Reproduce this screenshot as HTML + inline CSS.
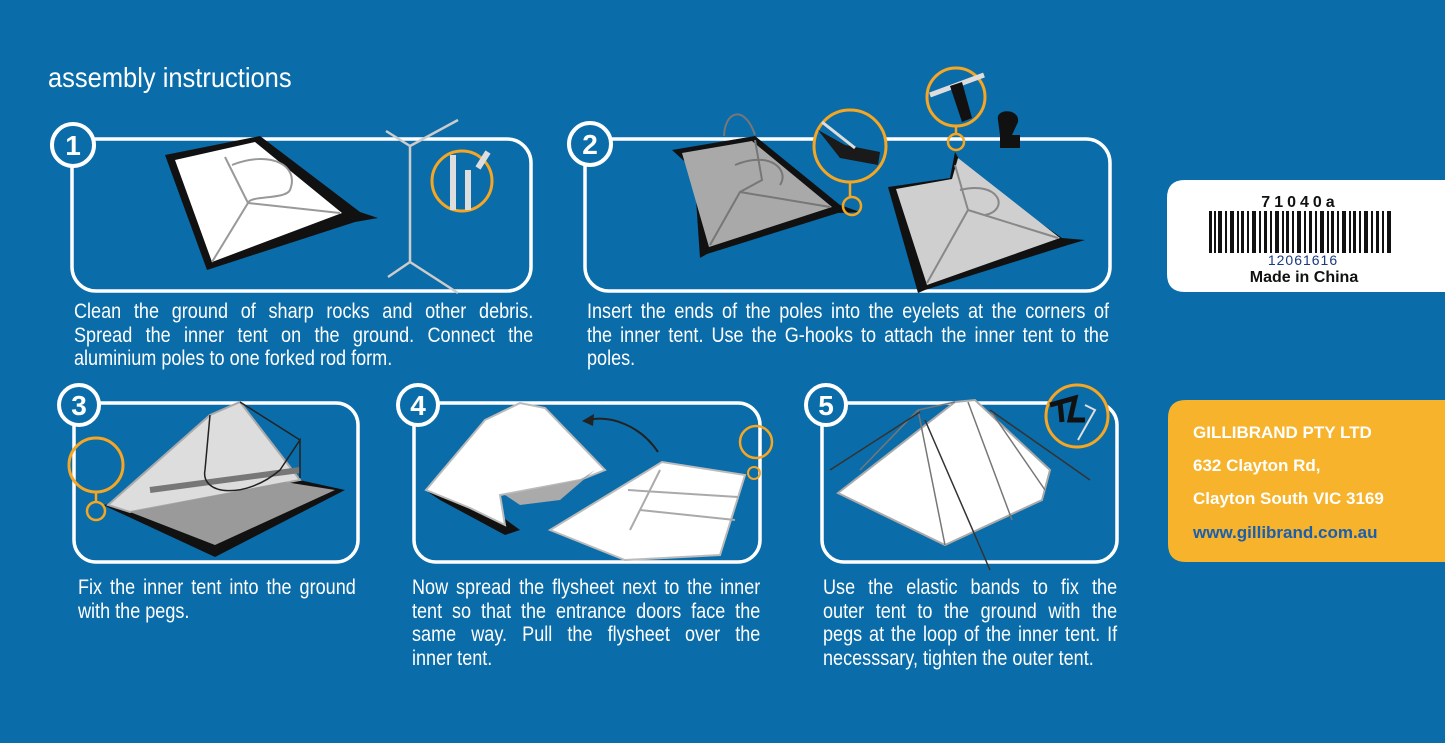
<!DOCTYPE html>
<html><head><meta charset="utf-8">
<style>
html,body{margin:0;padding:0}
body{width:1445px;height:743px;background:#0a6ca8;position:relative;overflow:hidden;font-family:"Liberation Sans",Arial,sans-serif}
.t{position:absolute;transform-origin:0 0;transform:scaleX(0.86);color:#fff;font-size:21px;line-height:23.6px}
.t div{text-align:justify;text-align-last:justify;white-space:nowrap}
.t div.l{text-align-last:left}
svg{position:absolute;left:0;top:0}
</style></head><body>
<svg width="1445" height="743" viewBox="0 0 1445 743">
<g fill="none" stroke="#fff" stroke-width="3.5">
<rect x="72" y="139" width="459" height="152" rx="24"/>
<rect x="585" y="139" width="525" height="152" rx="24"/>
<rect x="74" y="403" width="284" height="159" rx="22"/>
<rect x="414" y="403" width="346" height="159" rx="22"/>
<rect x="822" y="403" width="295" height="159" rx="22"/>
</g>
<g fill="#0a6ca8" stroke="#fff" stroke-width="4">
<circle cx="73" cy="145" r="21"/><circle cx="590" cy="144" r="21"/>
<circle cx="79" cy="405" r="20"/><circle cx="418" cy="405" r="20"/><circle cx="826" cy="405" r="20"/>
</g>
<g fill="#fff" font-family="Liberation Sans" font-weight="bold" font-size="28" text-anchor="middle">
<text x="73" y="155">1</text><text x="590" y="154">2</text><text x="79" y="415">3</text><text x="418" y="415">4</text><text x="826" y="415">5</text>
</g>
<!-- panel1 tent -->
<polygon points="165,155 260,136 360,212 378,218 355,222 207,270" fill="#111"/>
<polygon points="175,160 255,142 342,213 212,262" fill="#fff"/>
<path d="M212,262 L248,203 L340,213 M248,203 L225,157 M232,165 C270,150 300,165 290,190 C285,200 250,195 248,203" stroke="#999" stroke-width="2" fill="none"/>
<g stroke="#ccc" stroke-width="2.5" fill="none">
<path d="M410,146 L410,262 M410,146 L386,131 M410,146 L458,120 M410,262 L388,277 M410,262 L458,293"/>
</g>
<circle cx="462" cy="181" r="30" fill="none" stroke="#f5a623" stroke-width="3"/>
<path d="M453,155 V210 M468,170 V210 M478,168 L488,152" stroke="#ddd" stroke-width="6"/>
<!-- panel2 -->
<polygon points="672,150 755,136 840,205 860,212 838,213 707,254 700,258 694,170" fill="#111"/>
<polygon points="682,153 752,141 832,207 709,247" fill="#a9a9a9"/>
<path d="M724,136 C725,110 745,105 755,135 M710,245 L740,192 L830,207 M740,192 L762,180 L755,140 M735,165 C770,150 790,170 780,185" stroke="#777" stroke-width="2" fill="none"/>
<circle cx="850" cy="146" r="36" fill="#0a6ca8" stroke="#f5a623" stroke-width="3"/>
<path d="M818,130 L845,145 L880,152 L878,165 L840,158 Z" fill="#1a1a1a"/>
<path d="M822,122 L855,148" stroke="#ddd" stroke-width="3"/>
<line x1="850" y1="182" x2="850" y2="197" stroke="#f5a623" stroke-width="2.5"/>
<circle cx="852" cy="206" r="9" fill="none" stroke="#f5a623" stroke-width="2.5"/>
<polygon points="888,187 950,178 955,152 965,170 1062,238 1085,240 1068,245 925,290 918,293" fill="#111"/>
<polygon points="896,189 952,179 958,158 1060,238 927,285" fill="#cfcfcf"/>
<path d="M927,283 L968,210 L1058,238 M968,210 L955,165 M960,190 C1000,180 1010,210 985,215" stroke="#888" stroke-width="2" fill="none"/>
<circle cx="956" cy="97" r="29" fill="#0a6ca8" stroke="#f5a623" stroke-width="3"/>
<path d="M930,95 L984,75" stroke="#ddd" stroke-width="5"/>
<path d="M950,86 L962,82 L972,118 L962,122 Z" fill="#111"/>
<line x1="956" y1="126" x2="956" y2="135" stroke="#f5a623" stroke-width="2.5"/>
<circle cx="956" cy="142" r="8" fill="none" stroke="#f5a623" stroke-width="2.5"/>
<path d="M998,120 C995,108 1020,108 1018,122 L1012,135 L1020,135 L1020,148 L1000,148 L1000,135 Z" fill="#111"/>
<!-- panel3 -->
<polygon points="103,505 290,478 345,490 215,557" fill="#111"/>
<polygon points="108,505 210,415 240,402 300,480 130,512" fill="#ddd" stroke="#aaa" stroke-width="2"/>
<polygon points="130,512 285,482 335,490 215,545" fill="#9a9a9a"/>
<path d="M150,490 L300,470" stroke="#777" stroke-width="6"/>
<path d="M210,415 L205,470 C200,495 245,500 280,470 L300,440 L300,478 M240,402 L300,440" stroke="#222" stroke-width="1.5" fill="none"/>
<circle cx="96" cy="465" r="27" fill="none" stroke="#f5a623" stroke-width="3"/>
<line x1="96" y1="492" x2="96" y2="502" stroke="#f5a623" stroke-width="2.5"/>
<circle cx="96" cy="511" r="9" fill="none" stroke="#f5a623" stroke-width="2.5"/>
<!-- panel4 -->
<polygon points="428,492 490,508 520,530 505,535 440,500" fill="#111"/>
<polygon points="426,490 485,420 520,403 545,408 605,470 580,480 500,495 505,525 470,508" fill="#fff" stroke="#bbb" stroke-width="2"/>
<polygon points="505,495 580,480 595,470 560,500 520,505" fill="#aaa"/>
<polygon points="550,530 662,462 745,475 720,555 625,560" fill="#fff" stroke="#bbb" stroke-width="2"/>
<path d="M660,470 L630,530 M628,490 L738,497 M640,510 L735,520" stroke="#aaa" stroke-width="2" fill="none"/>
<path d="M658,452 C640,425 610,415 588,420" stroke="#222" stroke-width="2" fill="none"/>
<polygon points="582,421 594,414 593,426" fill="#222"/>
<circle cx="756" cy="442" r="16" fill="none" stroke="#f5a623" stroke-width="2.5"/>
<circle cx="754" cy="473" r="6" fill="none" stroke="#f5a623" stroke-width="2"/>
<!-- panel5 -->
<polygon points="838,493 955,402 975,400 1050,470 1042,500 945,545" fill="#fff" stroke="#aaa" stroke-width="2"/>
<path d="M955,402 L918,410 L860,470 M918,410 L945,545 M968,402 L1012,520 M990,410 L1045,490" stroke="#777" stroke-width="1.5" fill="none"/>
<path d="M830,470 L920,412 M990,410 L1090,480 M925,420 L990,570" stroke="#333" stroke-width="1.5"/>
<circle cx="1077" cy="416" r="31" fill="#0a6ca8" stroke="#f5a623" stroke-width="3"/>
<path d="M1050,405 L1075,398 L1070,420 L1085,420 M1060,402 L1062,422" stroke="#111" stroke-width="5" fill="none"/>
<path d="M1085,405 L1095,410 L1078,440" stroke="#ddd" stroke-width="2" fill="none"/>
<!-- right cards -->
<path d="M1185,180 H1445 V292 H1185 Q1167,292 1167,274 V198 Q1167,180 1185,180 Z" fill="#fff"/>
<path d="M1186,400 H1445 V562 H1186 Q1168,562 1168,544 V418 Q1168,400 1186,400 Z" fill="#f6b32b"/>
<g fill="#111">
<rect x="1209" y="211" width="3" height="42"/><rect x="1214" y="211" width="2" height="42"/><rect x="1218" y="211" width="4" height="42"/><rect x="1225" y="211" width="2" height="42"/><rect x="1230" y="211" width="4" height="42"/><rect x="1237" y="211" width="2" height="42"/><rect x="1241" y="211" width="3" height="42"/><rect x="1247" y="211" width="2" height="42"/><rect x="1252" y="211" width="4" height="42"/><rect x="1259" y="211" width="2" height="42"/><rect x="1264" y="211" width="3" height="42"/><rect x="1270" y="211" width="2" height="42"/><rect x="1275" y="211" width="4" height="42"/><rect x="1282" y="211" width="2" height="42"/><rect x="1286" y="211" width="3" height="42"/><rect x="1292" y="211" width="2" height="42"/><rect x="1297" y="211" width="4" height="42"/><rect x="1304" y="211" width="2" height="42"/><rect x="1309" y="211" width="3" height="42"/><rect x="1315" y="211" width="2" height="42"/><rect x="1320" y="211" width="4" height="42"/><rect x="1327" y="211" width="2" height="42"/><rect x="1331" y="211" width="3" height="42"/><rect x="1337" y="211" width="2" height="42"/><rect x="1342" y="211" width="4" height="42"/><rect x="1349" y="211" width="2" height="42"/><rect x="1353" y="211" width="3" height="42"/><rect x="1359" y="211" width="2" height="42"/><rect x="1364" y="211" width="4" height="42"/><rect x="1371" y="211" width="2" height="42"/><rect x="1376" y="211" width="3" height="42"/><rect x="1382" y="211" width="2" height="42"/><rect x="1387" y="211" width="4" height="42"/>
</g>
<g font-family="Liberation Sans" text-anchor="middle">
<text x="1300" y="207" font-size="16" font-weight="bold" letter-spacing="4" fill="#111">71040a</text>
<text x="1303" y="265" font-size="14" letter-spacing="1" fill="#1a3a80">12061616</text>
<text x="1304" y="282" font-size="16" font-weight="bold" fill="#111">Made in China</text>
</g>
<g font-family="Liberation Sans" font-weight="bold" font-size="17" fill="#fff">
<text x="1193" y="438">GILLIBRAND PTY LTD</text>
<text x="1193" y="471">632 Clayton Rd,</text>
<text x="1193" y="504">Clayton South VIC 3169</text>
<text x="1193" y="538" fill="#1a5fae">www.gillibrand.com.au</text>
</g>
</svg>
<div class="t" style="left:48px;top:66px;font-size:28px;transform:scaleX(0.91)"><div class="l">assembly instructions</div></div>
<div class="t" style="left:74px;top:300px;width:534px"><div>Clean the ground of sharp rocks and other debris.</div><div>Spread the inner tent on the ground. Connect the</div><div class="l">aluminium poles to one forked rod form.</div></div>
<div class="t" style="left:587px;top:300px;width:607px"><div>Insert the ends of the poles into the eyelets at the corners of</div><div>the inner tent. Use the G-hooks to attach the inner tent to the</div><div class="l">poles.</div></div>
<div class="t" style="left:78px;top:576px;width:323px"><div>Fix the inner tent into the ground</div><div class="l">with the pegs.</div></div>
<div class="t" style="left:412px;top:576px;width:405px"><div>Now spread the flysheet next to the inner</div><div>tent so that the entrance doors face the</div><div>same way. Pull the flysheet over the</div><div class="l">inner tent.</div></div>
<div class="t" style="left:823px;top:576px;width:342px"><div>Use the elastic bands to fix the</div><div>outer tent to the ground with the</div><div>pegs at the loop of the inner tent. If</div><div class="l">necesssary, tighten the outer tent.</div></div>
</body></html>
